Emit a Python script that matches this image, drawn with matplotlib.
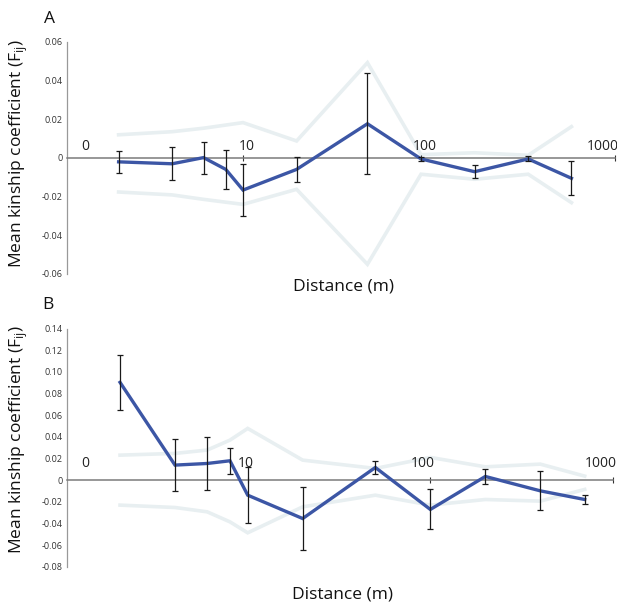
import matplotlib
matplotlib.use("Agg")
import matplotlib.pyplot as plt
import matplotlib.transforms as mtransforms
import numpy as np

plt.rcParams['font.family'] = ['Open Sans', 'DejaVu Sans']

# Distance classes (m)
distance = [2, 4, 6, 8, 10, 20, 50, 100, 200, 400, 700]

# Panel A
mean_a = [-0.0020, -0.0030, 0.0002, -0.0059, -0.0166, -0.0059, 0.0177, -0.0005, -0.0071, -0.0005, -0.0105]
err_a = [0.0056, 0.0085, 0.0083, 0.0099, 0.0134, 0.0065, 0.0261, 0.0012, 0.0034, 0.0013, 0.0089]
upper_a = [0.0120, 0.0136, 0.0154, 0.0183, 0.0088, 0.0493, 0.0017, 0.0027, 0.0014, 0.0162]
lower_a = [-0.0176, -0.0191, -0.0214, -0.0240, -0.0162, -0.0550, -0.0084, -0.0110, -0.0084, -0.0231]
env_x_a = [2, 4, 6, 10, 20, 50, 100, 200, 400, 700]

# Panel B
mean_b = [0.0904, 0.0139, 0.0154, 0.0179, -0.0139, -0.0355, 0.0117, -0.0271, 0.0034, -0.0099, -0.0179]
err_b = [0.0254, 0.0238, 0.0247, 0.0119, 0.0259, 0.0293, 0.0061, 0.0185, 0.0072, 0.0180, 0.0045]
upper_b = [0.0231, 0.0247, 0.0278, 0.0370, 0.0478, 0.0185, 0.0108, 0.0210, 0.0123, 0.0148, 0.0037]
lower_b = [-0.0231, -0.0253, -0.0293, -0.0386, -0.0487, -0.0247, -0.0139, -0.0231, -0.0179, -0.0194, -0.0086]
env_x_b = distance

yticks_a = [-0.06, -0.04, -0.02, 0, 0.02, 0.04, 0.06]
ytick_labels_a = ['-0.06', '-0.04', '-0.02', '0', '0.02', '0.04', '0.06']
yticks_b = [-0.08, -0.06, -0.04, -0.02, 0, 0.02, 0.04, 0.06, 0.08, 0.10, 0.12, 0.14]
ytick_labels_b = ['-0.08', '-0.06', '-0.04', '-0.02', '0', '0.02', '0.04', '0.06', '0.08', '0.10', '0.12', '0.14']

xlabel_vals = [1.3, 10, 100, 1000]
xlabel_text = ['0', '10', '100', '1000']

BLUE = '#3c56a5'
ENV = '#e8eff1'
GRAY = '#7a7a7a'

fig = plt.figure(figsize=(6.17, 6.06), dpi=100)
ax_a = fig.add_axes([0.1086, 0.5479, 0.8882, 0.3828])
ax_b = fig.add_axes([0.1086, 0.0649, 0.8849, 0.3927])

xlim_a = (1.026, 1230)
xlim_b = (1.025, 1000)


def setup(ax, xlim, ylim, yticks, ylabels, label_y_off, xtick_vals):
    ax.set_xscale('log')
    ax.set_xlim(*xlim)
    ax.set_ylim(*ylim)
    for s in ['top', 'right']:
        ax.spines[s].set_visible(False)
    ax.spines['left'].set_color('#999999')
    ax.spines['left'].set_linewidth(0.9)
    ax.spines['bottom'].set_position(('data', 0))
    ax.spines['bottom'].set_color(GRAY)
    ax.spines['bottom'].set_linewidth(1.1)
    ax.set_yticks(yticks)
    ax.set_yticklabels(ylabels, fontsize=6.5, color='#333333')
    ax.tick_params(axis='y', length=0, pad=3)
    ax.xaxis.set_minor_locator(matplotlib.ticker.NullLocator())
    ax.set_xticks(xtick_vals)
    ax.set_xticklabels([])
    ax.tick_params(axis='x', direction='inout', length=5, width=0.8, color='#333333')
    # x labels placed above the axis line, at positions from panel A's scale
    la, lb = np.log10(xlim_a[0]), np.log10(xlim_a[1])
    trans = mtransforms.blended_transform_factory(ax.transAxes, ax.transData)
    for v, t in zip(xlabel_vals, xlabel_text):
        f = (np.log10(v) - la) / (lb - la)
        if t != '0':
            f += 0.006
        ax.text(f, label_y_off, t, transform=trans, ha='center', va='center',
                fontsize=10, color='#222222')


def draw(ax, mean, err, ex, up, lo):
    ax.plot(ex, up, color=ENV, lw=2.6, solid_joinstyle='miter', zorder=1)
    ax.plot(ex, lo, color=ENV, lw=2.6, solid_joinstyle='miter', zorder=1)
    ax.plot(distance, mean, color=BLUE, lw=2.4, solid_joinstyle='miter', zorder=3)
    ax.errorbar(distance, mean, yerr=err, fmt='none', ecolor='#1a1a1a',
                elinewidth=0.9, capsize=2.2, capthick=0.9, zorder=4)


setup(ax_a, xlim_a, (-0.06, 0.06), yticks_a, ytick_labels_a, 0.006, [10, 100, 1230])
draw(ax_a, mean_a, err_a, env_x_a, upper_a, lower_a)

setup(ax_b, xlim_b, (-0.08, 0.14), yticks_b, ytick_labels_b, 0.0157, [10, 100, 1000])
draw(ax_b, mean_b, err_b, env_x_b, upper_b, lower_b)

ylabel = r'Mean kinship coefficient (F$_{\mathregular{ij}}$)'
for ax, yc in [(ax_a, 0.52), (ax_b, 0.532)]:
    ax.set_ylabel(ylabel, fontsize=12.5, color='#111111')
    ax.yaxis.set_label_coords(-0.0876, yc)
    ax.yaxis.label.set_va('center')

ax_a.text(0.504, -0.056, 'Distance (m)', transform=ax_a.transAxes, ha='center',
          va='center', fontsize=12.5, color='#111111')
ax_b.text(0.505, -0.119, 'Distance (m)', transform=ax_b.transAxes, ha='center',
          va='center', fontsize=12.5, color='#111111')

fig.text(49 / 617, 1 - 19 / 606, 'A', fontsize=12.5, ha='center', va='center', color='#111111')
fig.text(48 / 617, 1 - 305 / 606, 'B', fontsize=12.5, ha='center', va='center', color='#111111')

fig.savefig('out.png', dpi=100)
